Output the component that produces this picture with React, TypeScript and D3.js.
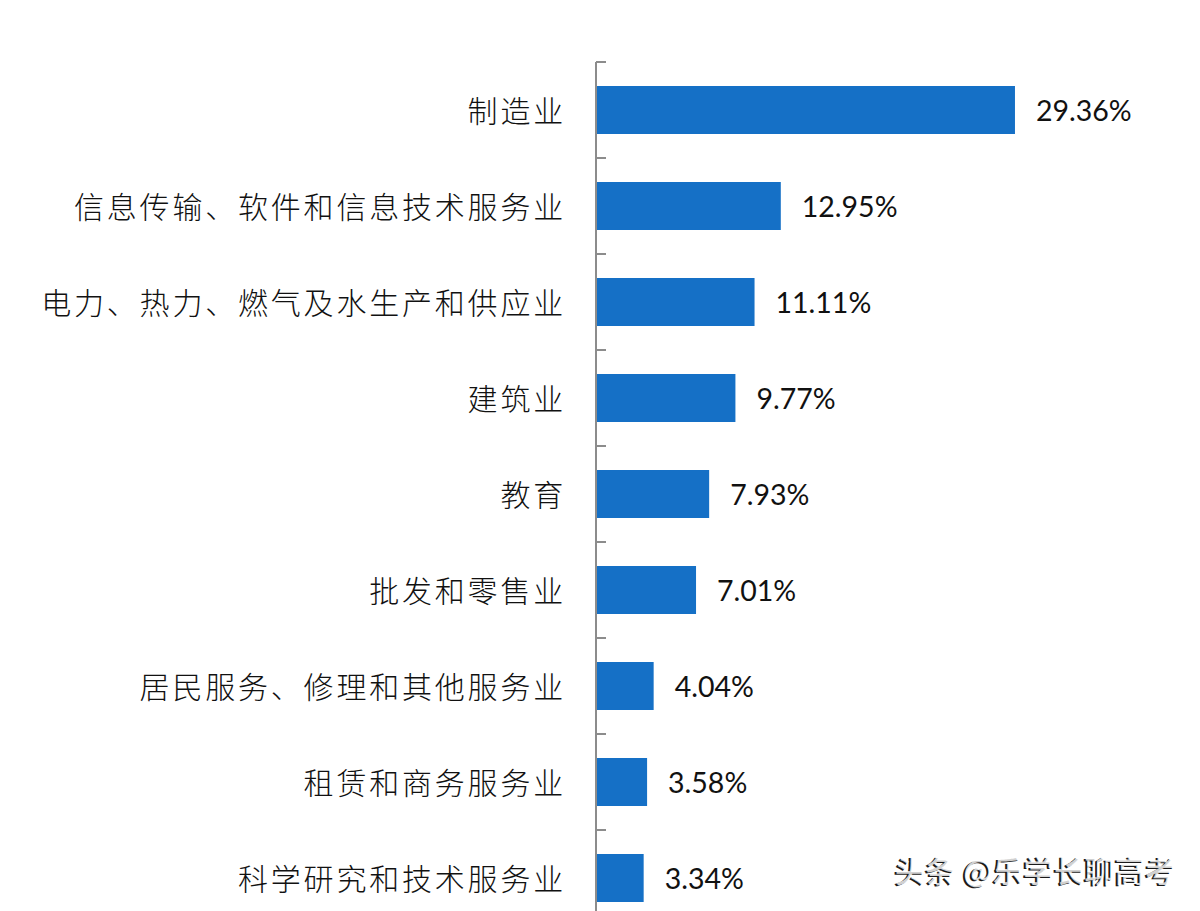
import React from "react";
import * as d3 from "d3";

const categories = [
  "制造业",
  "信息传输、软件和信息技术服务业",
  "电力、热力、燃气及水生产和供应业",
  "建筑业",
  "教育",
  "批发和零售业",
  "居民服务、修理和其他服务业",
  "租赁和商务服务业",
  "科学研究和技术服务业",
];
const values = [29.36, 12.95, 11.11, 9.77, 7.93, 7.01, 4.04, 3.58, 3.34];
const valueLabels = ["29.36%", "12.95%", "11.11%", "9.77%", "7.93%", "7.01%", "4.04%", "3.58%", "3.34%"];
const watermark = "头条 @乐学长聊高考";

const W = 1200;
const H = 911;
const axisX = 596;
const top = 62;
const step = 96;

export default function App() {
  const y = d3
    .scaleBand<string>()
    .domain(categories)
    .range([top, top + step * categories.length])
    .paddingInner(0.5)
    .paddingOuter(0.25);
  const x = d3.scaleLinear().domain([0, 30]).range([axisX, axisX + 30 * 14.27]);
  const ticks = d3.range(categories.length + 1).map((i) => top + i * step);

  return (
    <svg
      width={W}
      height={H}
      style={{ position: "absolute", left: 0, top: 0, background: "#fff" }}
    >
      {categories.map((c, i) => (
        <rect
          key={c}
          x={x(0)}
          y={y(c)!}
          width={x(values[i]) - x(0)}
          height={y.bandwidth()}
          fill="#1570C6"
        />
      ))}
      <line x1={axisX} x2={axisX} y1={top} y2={H + 20} stroke="#8c8c8c" strokeWidth={2} />
      {ticks.map((t, i) => (
        <line key={i} x1={axisX} x2={axisX + 10} y1={t} y2={t} stroke="#8c8c8c" strokeWidth={2} />
      ))}
      {categories.map((c, i) => (
        <text
          key={"l" + c}
          x={566}
          y={y(c)! + y.bandwidth() / 2 - 1}
          textAnchor="end"
          dominantBaseline="central"
          fontFamily="'Noto Sans CJK SC', sans-serif"
          fontSize={30}
          fontWeight={300}
          letterSpacing={2.8}
          fill="#111"
        >
          {c}
        </text>
      ))}
      {categories.map((c, i) => (
        <text
          key={"v" + c}
          x={x(values[i]) + 21}
          y={y(c)! + y.bandwidth() / 2}
          dominantBaseline="central"
          fontFamily="Lato, 'Open Sans', sans-serif"
          fontSize={28.5}
          fill="#111"
        >
          {valueLabels[i]}
        </text>
      ))}
      <text
        x={893}
        y={883}
        fontFamily="'Noto Sans CJK SC', sans-serif"
        fontSize={30}
        fontWeight={500}
        letterSpacing={0.5}
        fill="#1a1a1a"
      >
        {watermark}
      </text>
      <text
        x={895}
        y={882}
        fontFamily="'Noto Sans CJK SC', sans-serif"
        fontSize={30}
        fontWeight={500}
        letterSpacing={0.5}
        fill="#ffffff"
        opacity={0.8}
      >
        {watermark}
      </text>
    </svg>
  );
}
